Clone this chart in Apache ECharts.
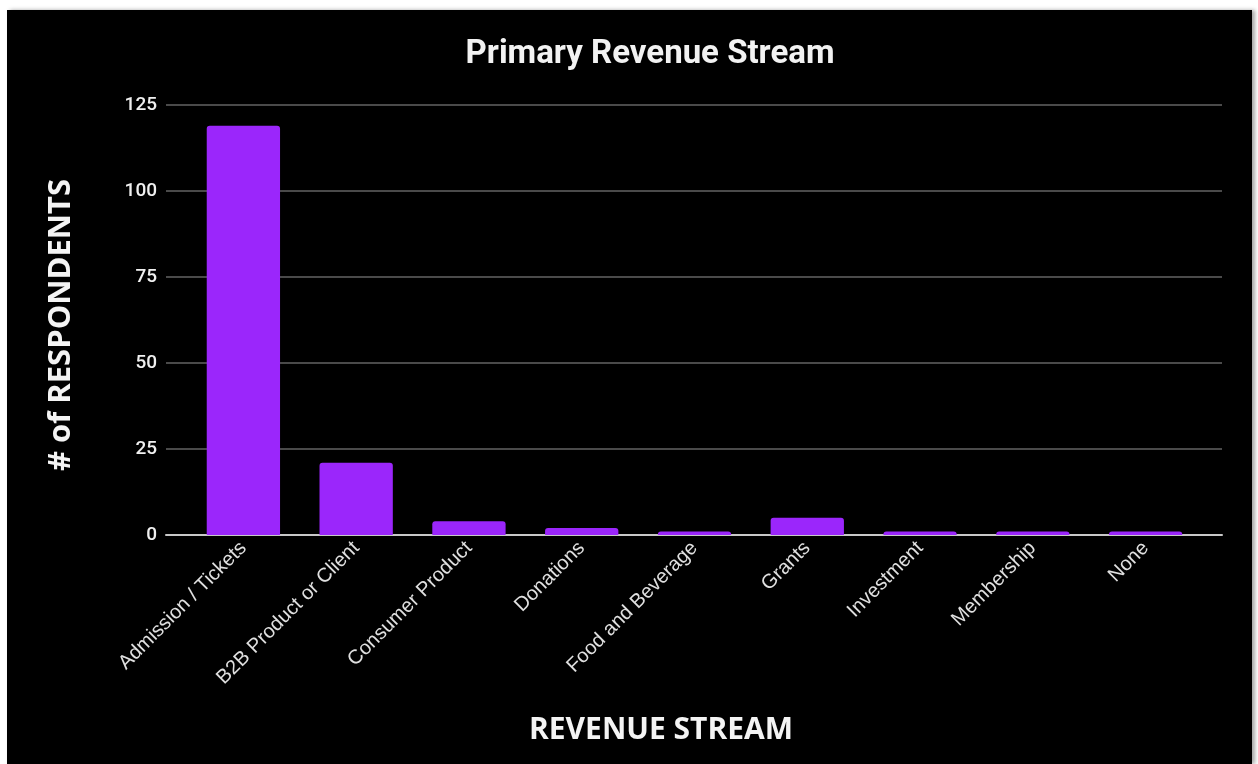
<!DOCTYPE html>
<html>
<head>
<meta charset="utf-8">
<script src="https://cdn.jsdelivr.net/npm/echarts@6/dist/echarts.min.js"></script>
<style>
  html, body { margin: 0; padding: 0; background: #ffffff; }
  #panel {
    position: absolute; left: 7px; top: 10px; width: 1245px; height: 754px;
    background: #000000; box-shadow: 3px 0 4px rgba(0,0,0,0.35);
  }
  #chart { width: 1245px; height: 754px; }
</style>
</head>
<body>
<div id="panel"><div id="chart"></div></div>
<script>
// Respondents by primary revenue stream
const categories = [
  'Admission / Tickets', 'B2B Product or Client', 'Consumer Product', 'Donations',
  'Food and Beverage', 'Grants', 'Investment', 'Membership', 'None'
];
const respondents = [119, 21, 4, 2, 1, 5, 1, 1, 1];
const yTicks = [0, 25, 50, 75, 100, 125];

const chartTitle = 'Primary Revenue Stream';
const xTitle = 'REVENUE STREAM';
const yTitle = '# of RESPONDENTS';

const yMin = yTicks[0];
const yMax = yTicks[yTicks.length - 1];
const yStep = yTicks[1] - yTicks[0];

const chart = echarts.init(document.getElementById('chart'), null, { renderer: 'canvas' });

chart.setOption({
  backgroundColor: '#000000',
  animation: false,
  title: {
    text: chartTitle,
    left: 638, top: 23, textAlign: 'center',
    textStyle: { color: '#f2f2f2', fontFamily: 'Roboto', fontWeight: 'bold', fontSize: 33 }
  },
  grid: [
    // frame grid: gridlines and baseline run a little wider than the bars
    { left: 159, right: 30, top: 95, bottom: 229 },
    // bar grid
    { left: 180, right: 50, top: 95, bottom: 229 }
  ],
  xAxis: [
    {
      gridIndex: 0, type: 'value', min: 0, max: 1,
      axisLine: { show: true, onZero: false, lineStyle: { color: '#c8c8c8', width: 2 } },
      axisTick: { show: false }, axisLabel: { show: false }, splitLine: { show: false }
    },
    {
      gridIndex: 1, type: 'category', data: categories,
      axisLine: { show: false }, axisTick: { show: false },
      axisLabel: {
        rotate: 45, interval: 0, margin: 10,
        color: '#e0e0e0', fontFamily: 'Liberation Sans', fontSize: 20
      }
    }
  ],
  yAxis: [
    {
      gridIndex: 0, type: 'value', min: yMin, max: yMax, interval: yStep,
      axisLine: { show: false }, axisTick: { show: false },
      axisLabel: {
        margin: 9, color: '#f0f0f0', fontFamily: 'Roboto', fontWeight: 500, fontSize: 19
      },
      splitLine: { lineStyle: { color: '#4a4a4a', width: 2 } }
    },
    {
      gridIndex: 1, type: 'value', min: yMin, max: yMax, interval: yStep,
      show: false, splitLine: { show: false }
    }
  ],
  series: [
    {
      type: 'bar', xAxisIndex: 1, yAxisIndex: 1, data: respondents,
      barCategoryGap: '35%', z: 3,
      itemStyle: { color: '#9b26fb', borderRadius: [3, 3, 0, 0] }
    }
  ],
  graphic: [
    {
      type: 'text', x: 654, y: 720,
      style: {
        text: xTitle, fill: '#f4f4f4', textAlign: 'center', textVerticalAlign: 'middle',
        font: 'bold 30px "Open Sans"'
      }
    },
    {
      type: 'text', x: 54, y: 315, rotation: Math.PI / 2,
      style: {
        text: yTitle, fill: '#f4f4f4', textAlign: 'center', textVerticalAlign: 'middle',
        font: 'bold 31px "Open Sans"'
      }
    }
  ]
});
</script>
</body>
</html>
